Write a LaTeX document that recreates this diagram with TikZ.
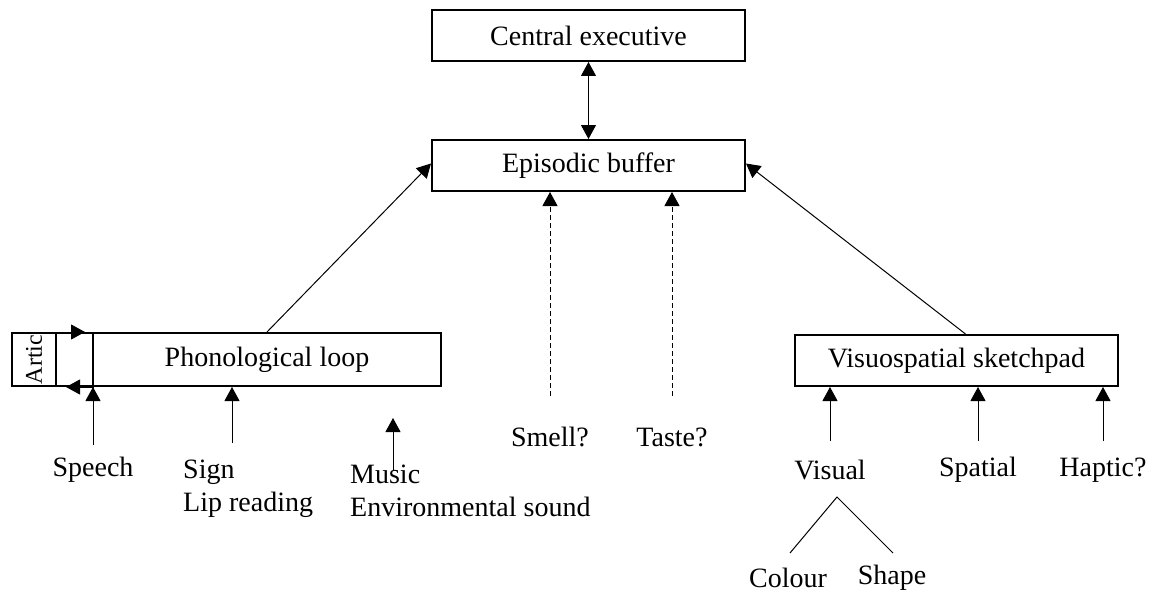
\documentclass[tikz,border=0pt]{standalone}
\usepackage{fontspec}
\setmainfont{Liberation Serif}
\usetikzlibrary{arrows.meta}
\begin{document}
\begin{tikzpicture}[x=1pt,y=-1pt,
  box/.style={draw,line width=2pt,inner sep=0pt,minimum height=51pt},
  lbl/.style={inner sep=0pt,font=\fontsize{28}{33}\selectfont},
  con/.style={line width=1pt},
  arr/.style={con,-{Triangle[length=14pt,width=15pt]}},
  darr/.style={con,{Triangle[length=14pt,width=15pt]}-{Triangle[length=14pt,width=15pt]}},
  dasharr/.style={arr,dash pattern=on 5pt off 3pt}]
\useasboundingbox (0,0) rectangle (1160,594);
% boxes
\node[box,minimum width=313pt,lbl] (ce) at (588.5,35.5) {Central executive};
\node[box,minimum width=313pt,lbl] (eb) at (588.5,165.5) {Episodic buffer};
\node[box,minimum width=44pt,minimum height=53pt] (artic) at (34,359.5) {};
\node[rotate=90,inner sep=0pt,font=\fontsize{24}{28}\selectfont] (artictxt) at (artic.center) {Artic};
\node[box,minimum width=37pt,minimum height=53pt] (gap) at (74.5,359.5) {};
\node[box,minimum width=348pt,minimum height=53pt,lbl] (phon) at (267,359.5) {Phonological loop};
\node[box,minimum width=323pt,lbl] (vs) at (956.5,360.5) {Visuospatial sketchpad};
% labels
\node[lbl] (speech) at (93,470) {Speech};
\node[lbl,align=left,anchor=west] (sign) at (183,489) {Sign\\Lip reading};
\node[lbl,align=left,anchor=west] (music) at (350,491) {Music\\Environmental sound};
\node[lbl] (smell) at (550,437) {Smell?};
\node[lbl] (taste) at (672,437) {Taste?};
\node[lbl] (visual) at (830,470) {Visual};
\node[lbl] (spatial) at (978,470) {Spatial};
\node[lbl] (haptic) at (1103,470) {Haptic?};
\node[lbl] (colour) at (788,578) {Colour};
\node[lbl] (shape) at (892,578) {Shape};
% coordinates
\coordinate (speechtop) at (93,445);
\coordinate (signtop) at (232,443);
\coordinate (musicbot) at (393,470);
\coordinate (musictip) at (393,418);
\coordinate (smelltop) at (550,396);
\coordinate (tastetop) at (672,396);
\coordinate (visualtop) at (830,441);
\coordinate (spatialtop) at (978,441);
\coordinate (haptictop) at (1103,441);
\coordinate (apex) at (837,497);
\coordinate (colourtop) at (790,553);
\coordinate (shapetop) at (893,553);
% connectors
\draw[darr] (ce.south) -- (eb.north);
\draw[arr] (phon.north) -- ([yshift=2pt]eb.west);
\draw[arr] ([xshift=9pt]vs.north) -- ([yshift=2pt]eb.east);
\draw[dasharr] (smelltop) -- (smelltop |- eb.south);
\draw[dasharr] (tastetop) -- (tastetop |- eb.south);
\draw[arr] (gap.north west) -- ([xshift=-9pt]gap.north east);
\draw[arr] (gap.south east) -- ([xshift=11pt]gap.south west);
\draw[arr] (speechtop) -- (speechtop |- phon.south);
\draw[arr] (signtop) -- (signtop |- phon.south);
\draw[arr] (musicbot) -- (musictip);
\draw[arr] (visualtop) -- (visualtop |- vs.south);
\draw[arr] (spatialtop) -- (spatialtop |- vs.south);
\draw[arr] (haptictop) -- (haptictop |- vs.south);
\draw[con] (colourtop) -- (apex) -- (shapetop);
\end{tikzpicture}
\end{document}
